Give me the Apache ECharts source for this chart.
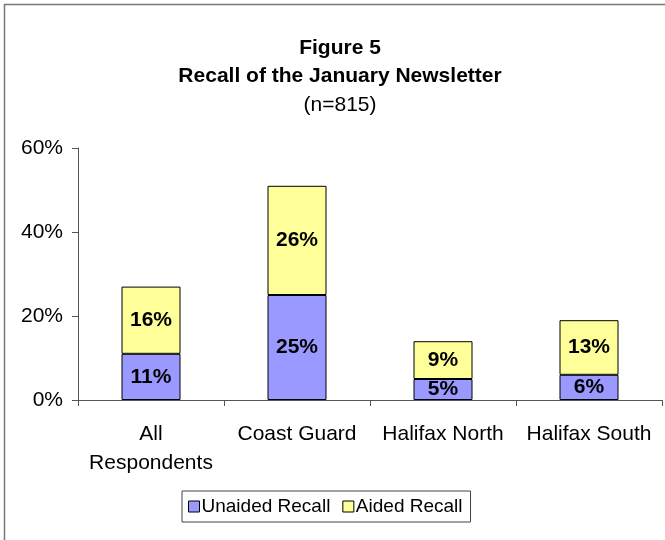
<!DOCTYPE html>
<html>
<head>
<meta charset="utf-8">
<script src="https://cdn.jsdelivr.net/npm/echarts@6/dist/echarts.min.js"></script>
<style>
  html, body { margin: 0; padding: 0; background: #fff; }
  #chart { width: 665px; height: 540px; }
</style>
</head>
<body>
<div id="chart"></div>
<script>
// chart data
const categories = ['All\nRespondents', 'Coast Guard', 'Halifax North', 'Halifax South']
const unaided = [11, 25, 5, 6]
const aided = [16, 26, 9, 13]
const yTicks = [0, 20, 40, 60]

const FONT = 'Liberation Sans, Arial, sans-serif'
const AXIS_COLOR = '#555'

const chart = echarts.init(document.getElementById('chart'))

const barLabel = {
  show: true,
  position: 'inside',
  formatter: '{c}%',
  color: '#000',
  fontFamily: FONT,
  fontWeight: 'bold',
  fontSize: 21,
}

chart.setOption({
  animation: false,
  title: {
    text: 'Figure 5\nRecall of the January Newsletter',
    subtext: '(n=815)',
    left: 335,
    textAlign: 'center',
    top: 29,
    itemGap: 5,
    textStyle: { fontFamily: FONT, fontWeight: 'bold', fontSize: 21, color: '#000', lineHeight: 28 },
    subtextStyle: { fontFamily: FONT, fontSize: 21, color: '#000' },
  },
  graphic: [
    {
      type: 'rect',
      shape: { x: 4.5, y: 4.5, width: 700, height: 600 },
      style: { fill: 'none', stroke: '#777', lineWidth: 1.5 },
      silent: true,
    },
  ],
  legend: {
    left: 182,
    top: 491,
    icon: 'rect',
    itemWidth: 11,
    itemHeight: 11,
    itemGap: 12,
    padding: [6, 8, 6, 6],
    borderColor: '#444',
    borderWidth: 1,
    textStyle: { fontFamily: FONT, fontSize: 19, color: '#000', padding: [0, 0, 0, -3] },
    data: [
      { name: 'Unaided Recall', itemStyle: { borderColor: '#000', borderWidth: 1 } },
      { name: 'Aided Recall', itemStyle: { borderColor: '#000', borderWidth: 1 } },
    ],
  },
  grid: { left: 78, right: 3, top: 148, bottom: 140 },
  xAxis: {
    type: 'category',
    data: categories,
    axisLine: { lineStyle: { color: AXIS_COLOR } },
    axisTick: { show: true, length: 6, lineStyle: { color: AXIS_COLOR } },
    axisLabel: { color: '#000', fontFamily: FONT, fontSize: 21, margin: 20, lineHeight: 29, interval: 0 },
  },
  yAxis: {
    type: 'value',
    min: yTicks[0],
    max: yTicks[yTicks.length - 1],
    interval: 20,
    axisLine: { show: true, lineStyle: { color: AXIS_COLOR } },
    axisTick: { show: true, length: 6, lineStyle: { color: AXIS_COLOR } },
    splitLine: { show: false },
    axisLabel: { color: '#000', fontFamily: FONT, fontSize: 21, margin: 15, formatter: '{value}%' },
  },
  series: [
    {
      name: 'Unaided Recall',
      type: 'bar',
      stack: 'recall',
      barWidth: 59,
      data: unaided,
      itemStyle: { color: '#9999FF', borderColor: '#000', borderWidth: 1 },
      label: barLabel,
    },
    {
      name: 'Aided Recall',
      type: 'bar',
      stack: 'recall',
      data: aided,
      itemStyle: { color: '#FFFF99', borderColor: '#000', borderWidth: 1 },
      label: barLabel,
    },
  ],
})
</script>
</body>
</html>
